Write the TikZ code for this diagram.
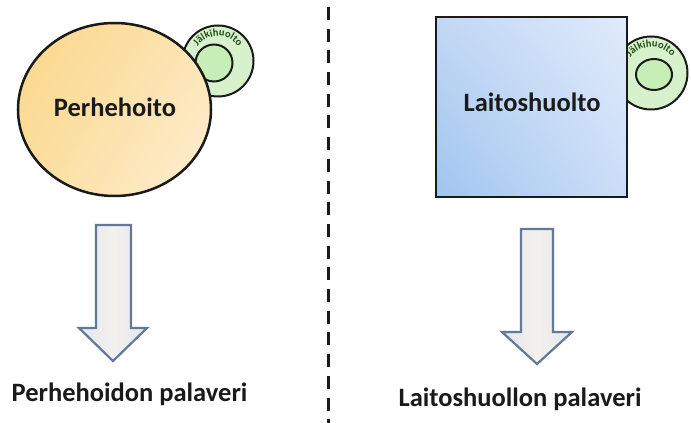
\documentclass[tikz,border=0pt]{standalone}
\usepackage{fontspec}
\setmainfont{Carlito}
\usetikzlibrary{shapes.geometric,decorations.text,shadings}

\definecolor{inkdark}{RGB}{26,26,26}
\definecolor{famUL}{RGB}{250,214,136}
\definecolor{famUR}{RGB}{252,228,180}
\definecolor{famLL}{RGB}{251,222,158}
\definecolor{famLR}{RGB}{254,238,210}
\definecolor{instUL}{RGB}{194,215,244}
\definecolor{instUR}{RGB}{224,235,251}
\definecolor{instLL}{RGB}{160,197,240}
\definecolor{instLR}{RGB}{204,222,247}
\definecolor{ringfill}{RGB}{216,241,205}
\definecolor{ringcore}{RGB}{198,238,182}
\definecolor{ringtext}{RGB}{34,76,24}
\definecolor{arrowedge}{RGB}{98,122,152}
\definecolor{arrowside}{RGB}{224,230,239}
\definecolor{arrowmid}{RGB}{244,241,237}

\newcommand\ringfont{\fontsize{10.5}{11}\selectfont\bfseries}

\tikzset{
  maintext/.style={font=\fontsize{26.5}{30}\selectfont\bfseries, text=inkdark, inner sep=0pt},
  outerring/.style={circle, draw=inkdark, line width=2pt, fill=ringfill, inner sep=0pt},
  innerring/.style={ellipse, draw=inkdark, line width=2pt, fill=ringcore, inner sep=0pt},
  blockarrow/.style={draw=arrowedge, line width=2.2pt, line join=miter,
    left color=arrowside, right color=arrowside, middle color=arrowmid},
  dividerline/.style={draw=inkdark, line width=3pt, dash pattern=on 13pt off 8.7pt},
  ringlabel/.style={decorate, decoration={text along path, text={|\ringfont|Jälkihuolto},
    text align=center, text color=ringtext}}
}

\begin{document}
\begin{tikzpicture}[x=1pt,y=1pt]
\useasboundingbox (0,0) rectangle (691,423);
\fill[white] (0,0) rectangle (691,423);

% aftercare ring beside the foster-care circle
\node[outerring, minimum size=71pt] (lring) at (218,362) {};
\node[innerring, minimum width=37pt, minimum height=37pt] (lcore) at (214,360) {};
\path[ringlabel] ([shift={(158:25)}]lring.center) arc[start angle=158, end angle=22, radius=25];

% aftercare ring beside the institution square
\node[outerring, minimum size=73pt] (rring) at (651,350) {};
\node[innerring, minimum width=36pt, minimum height=31pt] (rcore) at (654,348.5) {};
\path[ringlabel] ([shift={(158:26)}]rring.center) arc[start angle=158, end angle=22, radius=26];

% foster care
\node[ellipse, draw=inkdark, line width=2.5pt, minimum width=193pt, minimum height=173pt,
      upper left=famUL, upper right=famUR, lower left=famLL, lower right=famLR]
      (fam) at (114.5,313.5) {};
\node[maintext] (famtext) at (115,316) {Perhehoito};

% institutional care
\node[rectangle, draw=inkdark, line width=2.5pt, minimum width=191pt, minimum height=180pt,
      upper left=instUL, upper right=instUR, lower left=instLL, lower right=instLR]
      (inst) at (531.5,316) {};
\node[maintext] (insttext) at (532,321) {Laitoshuolto};

% block arrows
\draw[blockarrow] (96,198) -- (96,95) -- (79,95) -- (113,62) -- (147,95) -- (131,95) -- (131,198) -- cycle;
\draw[blockarrow] (521,194) -- (521,91) -- (502,91) -- (537,59) -- (572,91) -- (553,91) -- (553,194) -- cycle;

% meeting labels
\node[maintext, anchor=base] (fammeet) at (129.5,21) {Perhehoidon palaveri};
\node[maintext, anchor=base] (instmeet) at (520,16) {Laitoshuollon palaveri};

% divider
\coordinate (divtop) at (328,416);
\coordinate (divbottom) at (328,0);
\draw[dividerline] (divtop) -- (divbottom);
\end{tikzpicture}
\end{document}
